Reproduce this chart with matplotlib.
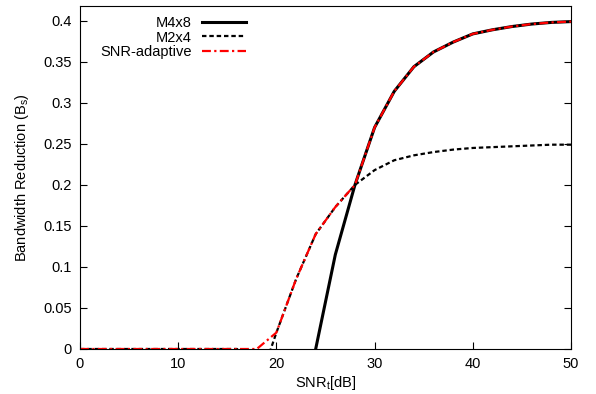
import matplotlib.pyplot as plt
import numpy as np

plt.rcParams['font.family'] = ['Liberation Sans', 'DejaVu Sans']
plt.rcParams['font.size'] = 10.5

# SNR_t [dB]
snr = [0, 2, 4, 6, 8, 10, 12, 14, 16, 18, 20, 22, 24, 26,
       28, 30, 32, 34, 36, 38, 40, 42, 44, 46, 48, 50]

nan = np.nan
m4x8 = [nan, nan, nan, nan, nan, nan, nan, nan, nan, nan, nan, nan, 0, 0.115,
        0.2, 0.27, 0.314, 0.344, 0.362, 0.374, 0.384, 0.389, 0.393, 0.396, 0.398, 0.399]

m2x4 = [0, 0, 0, 0, 0, 0, 0, 0, 0, -0.05, 0.02, 0.085, 0.14, 0.173,
        0.2, 0.218, 0.23, 0.236, 0.240, 0.243, 0.245, 0.246, 0.247, 0.248, 0.249, 0.249]

adaptive = [0, 0, 0, 0, 0, 0, 0, 0, 0, 0, 0.02, 0.085, 0.14, 0.173,
            0.2, 0.27, 0.314, 0.344, 0.362, 0.374, 0.384, 0.389, 0.393, 0.396, 0.398, 0.399]

fig = plt.figure(figsize=(5.96, 3.94), dpi=100)
ax = fig.add_axes([80 / 596, 1 - 349 / 394, 491 / 596, 343 / 394])

ax.plot(snr, m4x8, '-', color='black', linewidth=2.2, label='M4x8')
ax.plot(snr, m2x4, color='black', linewidth=1.6, dashes=(2, 1.3), label='M2x4')
ax.plot(snr, adaptive, color='red', linewidth=1.6, dashes=(4, 1.5, 1, 1.5),
        label='SNR-adaptive')

ax.set_xlim(0, 50)
ax.set_ylim(0, 0.418)
ax.set_xticks(np.arange(0, 51, 10))
ax.set_yticks(np.arange(0, 0.41, 0.05))
ax.set_yticklabels(['0', '0.05', '0.1', '0.15', '0.2', '0.25', '0.3', '0.35', '0.4'])
ax.tick_params(direction='in', length=5, width=0.8, right=True, top=False, pad=6)

ax.set_xlabel('SNR$_\\mathregular{t}$[dB]', labelpad=2)
ax.set_ylabel('Bandwidth Reduction (B$_\\mathregular{s}$)', labelpad=9)

leg = ax.legend(loc='upper left', bbox_to_anchor=(0.02, 1.0), markerfirst=False,
                frameon=False, handlelength=3.0, handletextpad=0.75,
                labelspacing=0.02, borderaxespad=0.3)

fig.savefig('out.png', dpi=100)
